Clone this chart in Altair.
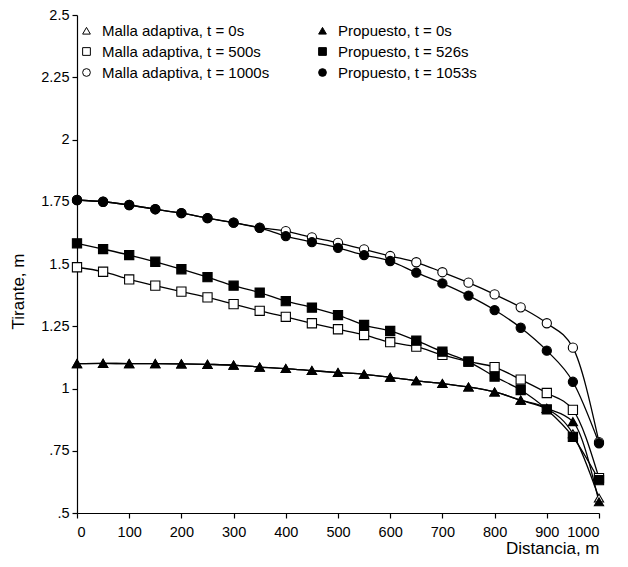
import altair as alt
import pandas as pd

distancia = [0, 50, 100, 150, 200, 250, 300, 350, 400, 450, 500,
             550, 600, 650, 700, 750, 800, 850, 900, 950, 1000]

malla_0 = [1.100, 1.101, 1.100, 1.100, 1.099, 1.097, 1.094, 1.086, 1.080, 1.072, 1.064,
           1.057, 1.045, 1.031, 1.020, 1.006, 0.986, 0.953, 0.920, 0.818, 0.560]
prop_0 = [1.100, 1.101, 1.100, 1.100, 1.099, 1.097, 1.094, 1.086, 1.080, 1.072, 1.064,
          1.057, 1.045, 1.031, 1.020, 1.006, 0.986, 0.953, 0.920, 0.867, 0.545]
malla_500 = [1.487, 1.469, 1.438, 1.413, 1.389, 1.366, 1.339, 1.312, 1.288, 1.262, 1.238,
             1.215, 1.186, 1.168, 1.135, 1.108, 1.086, 1.036, 0.982, 0.914, 0.640]
prop_526 = [1.583, 1.560, 1.536, 1.509, 1.479, 1.447, 1.413, 1.385, 1.351, 1.325, 1.295,
            1.255, 1.231, 1.192, 1.148, 1.108, 1.048, 0.994, 0.916, 0.806, 0.632]
malla_1000 = [1.757, 1.750, 1.737, 1.720, 1.704, 1.684, 1.666, 1.646, 1.632, 1.607, 1.585,
              1.559, 1.532, 1.507, 1.467, 1.425, 1.378, 1.326, 1.262, 1.164, 0.785]
prop_1053 = [1.757, 1.750, 1.737, 1.720, 1.704, 1.684, 1.666, 1.645, 1.612, 1.588, 1.565,
             1.536, 1.512, 1.465, 1.422, 1.373, 1.315, 1.244, 1.152, 1.027, 0.780]

series_names = [
    "Malla adaptiva, t = 0s", "Malla adaptiva, t = 500s", "Malla adaptiva, t = 1000s",
    "Propuesto, t = 0s", "Propuesto, t = 526s", "Propuesto, t = 1053s",
]
series_values = [malla_0, malla_500, malla_1000, prop_0, prop_526, prop_1053]
series_shapes = ["triangle-up", "square", "circle", "triangle-up", "square", "circle"]
series_fills = ["white", "white", "white", "black", "black", "black"]
series_strokes = ["black"] * 6

rows = []
for name, vals in zip(series_names, series_values):
    for d, v in zip(distancia, vals):
        rows.append({"serie": name, "distancia": d, "tirante": v})
df = pd.DataFrame(rows)

FONT = "Liberation Sans"

x = alt.X("distancia:Q",
          scale=alt.Scale(domain=[0, 1000], nice=False),
          axis=alt.Axis(values=list(range(0, 1001, 100)), format="d", title="Distancia, m",
                        titleAnchor="end", titleAlign="right", titlePadding=2,
                        titleFontSize=17, titleFontWeight="normal",
                        labelFontSize=14.5, labelPadding=7, tickSize=5,
                        grid=False, domainColor="black", tickColor="black",
                        labelColor="black", titleColor="black", labelFont=FONT,
                        titleFont=FONT))
y = alt.Y("tirante:Q",
          scale=alt.Scale(domain=[0.5, 2.5], nice=False, zero=False),
          axis=alt.Axis(values=[0.5, 0.75, 1, 1.25, 1.5, 1.75, 2, 2.25, 2.5],
                        labelExpr="datum.value < 1 ? slice(format(datum.value, '~g'), 1) : format(datum.value, '~g')",
                        title="Tirante, m", titleFontSize=17, titleFontWeight="normal",
                        titleX=-59, titleY=276, titleAngle=270, titleAlign="center",
                        titleBaseline="middle",
                        labelFontSize=14.5, labelPadding=3, tickSize=5,
                        grid=False, domainColor="black", tickColor="black",
                        labelColor="black", titleColor="black", labelFont=FONT,
                        titleFont=FONT))

lines = alt.Chart(df).mark_line(color="black", strokeWidth=1.3, interpolate="monotone").encode(
    x=x, y=y, detail="serie:N")

legend = alt.Legend(title=None, orient="none", legendX=2, legendY=8,
                    columns=2, columnPadding=45, rowPadding=5,
                    labelFontSize=15, labelFont=FONT, labelColor="black", labelLimit=300,
                    symbolStrokeWidth=1, symbolSize=60, labelOffset=8, gridAlign="all")

points = alt.Chart(df).mark_point(filled=False, strokeWidth=1.1,
                                  size=85, opacity=1, clip=False).encode(
    x=x, y=y,
    shape=alt.Shape("serie:N", scale=alt.Scale(domain=series_names, range=series_shapes),
                    legend=legend),
    fill=alt.Fill("serie:N", scale=alt.Scale(domain=series_names, range=series_fills),
                  legend=legend),
    stroke=alt.Stroke("serie:N", scale=alt.Scale(domain=series_names, range=series_strokes),
                      legend=legend),
)

chart = alt.layer(lines, points).properties(
    width=522, height=498,
    padding={"left": 69, "top": 7, "right": 21, "bottom": 46},
    autosize=alt.AutoSizeParams(type="none"),
).configure_view(stroke=None).configure_axis(domainWidth=1.2, tickWidth=1.2)

chart.save("out.html", embed_options={"renderer": "svg", "actions": False})
